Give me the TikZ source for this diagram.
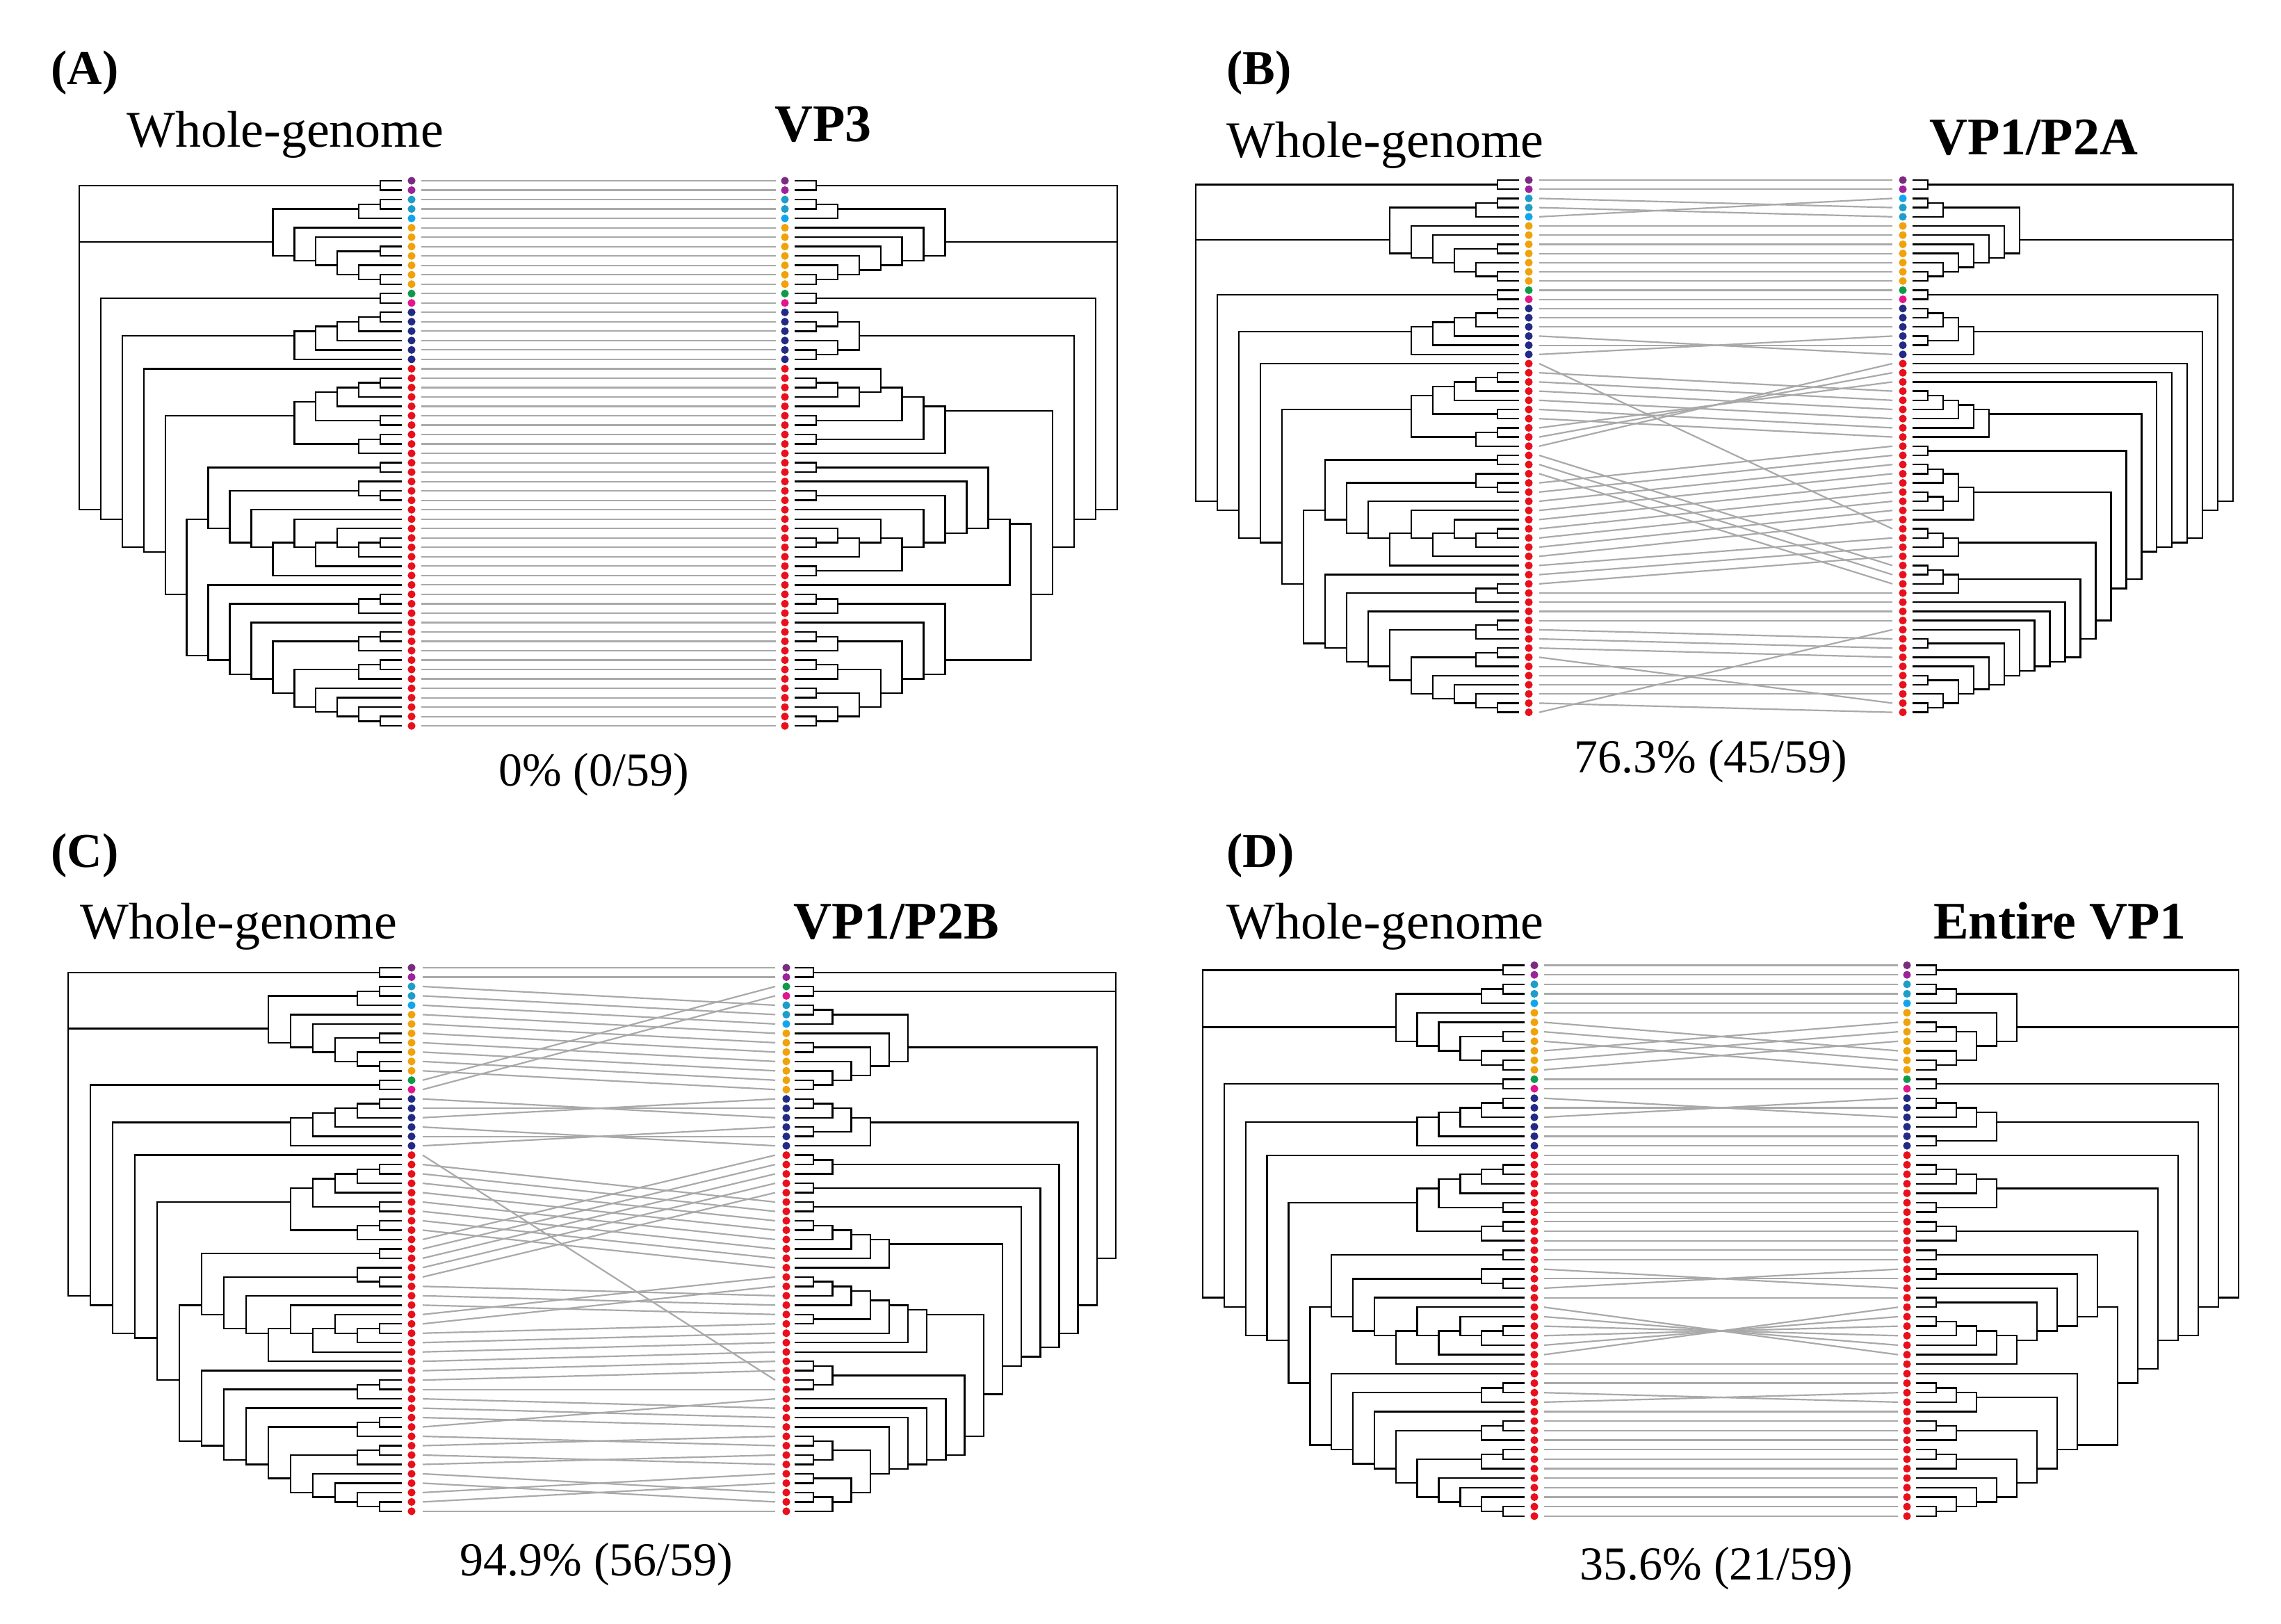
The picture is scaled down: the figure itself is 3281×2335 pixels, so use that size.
\documentclass[tikz,border=0pt]{standalone}
\usepackage{fontspec}
\setmainfont{Liberation Serif}
\definecolor{cpa}{HTML}{7B2B7F}
\definecolor{cpb}{HTML}{9C2399}
\definecolor{ccy}{HTML}{1E9DC9}
\definecolor{csk}{HTML}{10A5EE}
\definecolor{cor}{HTML}{F0A20C}
\definecolor{cgr}{HTML}{109A48}
\definecolor{cpk}{HTML}{E2168A}
\definecolor{cnv}{HTML}{232A86}
\definecolor{cred}{HTML}{E8101C}
\definecolor{clink}{HTML}{A9A9A9}
\tikzset{
  treeline/.style={line width=2.4pt, black},
  linkline/.style={line width=2.2pt, clink},
  lbl/.style={inner sep=0pt, font=\bfseries\fontsize{70}{80}\selectfont},
  ttl/.style={inner sep=0pt, font=\fontsize{74}{80}\selectfont},
  seg/.style={inner sep=0pt, font=\bfseries\fontsize{76}{80}\selectfont},
  pct/.style={inner sep=0pt, font=\fontsize{68}{80}\selectfont},
}
% ---------- tree parser ----------
\newcount\tsp \newcount\tmk \newcount\ttip \newcount\tmax
\newcount\tbase \newcount\tii \newcount\tlv
\newif\iftdraw
\def\tend{@@tend@@}
\def\ttok#1{%
  \ifx#1\tend\let\tnext\relax
  \else
    \if#1(\tpushmk\fi
    \if#1)\tclose\fi
    \if#1t\tnewtip\fi
    \let\tnext\ttok
  \fi\tnext}
\def\tnewtip{%
  \global\advance\ttip1
  \global\advance\tsp1
  \expandafter\xdef\csname tL\the\tsp\endcsname{0}%
  \expandafter\xdef\csname tA\the\tsp\endcsname{\the\ttip}%
  \expandafter\xdef\csname tB\the\tsp\endcsname{\the\ttip}}
\def\tpushmk{%
  \global\advance\tmk1
  \expandafter\xdef\csname tM\the\tmk\endcsname{\the\tsp}}
\def\tmaxloop{\ifnum\tii<\tsp \advance\tii1
  \ifnum\csname tL\the\tii\endcsname>\tlv \tlv=\csname tL\the\tii\endcsname\relax\fi
  \expandafter\tmaxloop\fi}
\def\tdrawloop{\ifnum\tii<\tsp \advance\tii1
  \edef\tcl{\csname tL\the\tii\endcsname}%
  \edef\tca{\csname tA\the\tii\endcsname}%
  \edef\tcb{\csname tB\the\tii\endcsname}%
  \draw[treeline] ({\tXz+(\tdir)*\tcl*\tstep},{\tYz+((\tca+\tcb)/2-1)*\tdy}) -| ({\tXz+(\tdir)*\the\tlv*\tstep},{\tYz+((\tpa+\tpb)/2-1)*\tdy});
  \expandafter\tdrawloop\fi}
\def\tclose{%
  \tbase=\csname tM\the\tmk\endcsname\relax
  \global\advance\tmk-1
  \tlv=0 \tii=\tbase
  \tmaxloop
  \advance\tlv1
  \ifnum\tlv>\tmax\global\tmax=\tlv\fi
  \advance\tbase1
  \edef\tpa{\csname tA\the\tbase\endcsname}%
  \edef\tpb{\csname tB\the\tsp\endcsname}%
  \iftdraw \tii=\tbase \advance\tii-1 \tdrawloop \fi
  \global\tsp=\tbase
  \expandafter\xdef\csname tL\the\tsp\endcsname{\the\tlv}%
  \expandafter\xdef\csname tA\the\tsp\endcsname{\tpa}%
  \expandafter\xdef\csname tB\the\tsp\endcsname{\tpb}}
\newcommand\drawtree[6]{% tree, tip x, dir, root x, y0, dy
  \def\tXz{#2}\def\tdir{#3}\def\tYz{#5}\def\tdy{#6}%
  \global\tsp=0 \global\tmk=0 \global\ttip=0 \global\tmax=0
  \tdrawfalse
  \expandafter\ttok#1\tend
  \pgfmathsetmacro\tstep{abs(#4-#2)/\the\tmax}%
  \global\tsp=0 \global\tmk=0 \global\ttip=0
  \tdrawtrue
  \expandafter\ttok#1\tend}
\def\tipcol#1{\ifcase#1\or cpa\or cpb\or ccy\or ccy\or csk\or cor\or cor\or cor\or cor\or cor\or cor\or cor\or cgr\or cpk\or cnv\or cnv\or cnv\or cnv\or cnv\or cnv\else cred\fi}
\newcommand\drawlinks[7]{% map, left dot x, right dot x, line x1, line x2, y0, dy
  \foreach \i/\p in #1 {
    \draw[linkline] (#4,{#6+(\i-1)*#7}) -- (#5,{#6+(\p-1)*#7});
  }
  \foreach \i/\p in #1 {
    \edef\cc{\tipcol{\i}}
    \fill[\cc] (#2,{#6+(\i-1)*#7}) circle[radius=5.6pt];
    \fill[\cc] (#3,{#6+(\p-1)*#7}) circle[radius=5.6pt];
  }}
% ---------- whole-genome tree ----------
\def\WGco{(((t,t),t),(t,(t,((t,t),(t,(t,t))))))}
\def\WGnavy{(((((t,t),t),t),t),t)}
\def\WGredA{(((((t,t),t),t),(t,t)),((t,t),t))}
\def\WGa{((t,t),t)}
\def\WGb{(t,\WGa)}
\def\WGc{(\WGb,t)}
\def\WGd{(t,\WGc)}
\def\WGe{(\WGd,t)}
\def\WGf{(t,\WGe)}
\def\WGg{((t,(t,t)),\WGf)}
\def\WGnineA{((t,t),\WGg)}
\def\WGh{(t,(t,t))}
\def\WGi{(t,\WGh)}
\def\WGj{(t,\WGi)}
\def\WGk{(((t,t),t),\WGj)}
\def\WGl{(((t,t),t),\WGk)}
\def\WGm{(t,\WGl)}
\def\WGn{(((t,t),t),\WGm)}
\def\WGnineB{(t,\WGn)}
\def\WGten{(\WGnineA,\WGnineB)}
\def\WGeleven{(\WGredA,\WGten)}
\def\WGtwelve{(t,\WGeleven)}
\def\WGthirteen{(\WGnavy,\WGtwelve)}
\def\WGfourteen{((t,t),\WGthirteen)}
\edef\treeWG{((t,t),\WGco,\WGfourteen)}
% ---------- VP3 tree ----------
\def\RAco{(((t,t),t),(t,(t,(t,(t,(t,(t,t)))))))}
\def\RAnavy{((t,(t,t)),(t,(t,t)))}
\def\RAa{(t,(((t,t),t),t))}
\def\RAsevenU{(((\RAa,(t,t)),(t,t)),t)}
\def\RAb{(t,(t,t))}
\def\RAc{(\RAb,t)}
\def\RAd{(t,\RAc)}
\def\RAe{(\RAd,(t,t))}
\def\RAf{(t,\RAe)}
\def\RAg{((t,t),\RAf)}
\def\RAh{(t,\RAg)}
\def\RAi{((t,t),\RAh)}
\def\RAten{(\RAi,t)}
\def\RAj{(t,(t,t))}
\def\RAk{((t,t),\RAj)}
\def\RAl{(((t,t),t),\RAk)}
\def\RAm{(((t,t),t),\RAl)}
\def\RAn{(t,\RAm)}
\def\RAsevenL{(((t,t),t),\RAn)}
\def\RAeleven{(\RAten,\RAsevenL)}
\def\RAtwelve{(\RAsevenU,\RAeleven)}
\def\RAthirteen{(\RAnavy,\RAtwelve)}
\def\RAfourteen{((t,t),\RAthirteen)}
\edef\treeRA{((t,t),\RAco,\RAfourteen)}
% ---------- VP1/P2A tree ----------
\def\RBnavy{((((t,t),t),(t,t)),t)}
\def\RBfive{(((((t,t),t),t),t),t)}
\def\RBfour{((((t,t),t),((t,t),t)),t)}
\def\RBthreeA{(((t,t),t),t)}
\def\RBthreeB{(((t,t),t),t)}
\def\RBa{((t,t),(t,(t,t)))}
\def\RBb{(t,\RBa)}
\def\RBc{(t,\RBb)}
\def\RBd{((t,t),\RBc)}
\def\RBe{(t,\RBd)}
\def\RBf{(t,\RBe)}
\def\RBg{(t,\RBf)}
\def\RBten{(t,\RBg)}
\def\RBeleven{(\RBthreeB,\RBten)}
\def\RBtwelve{(\RBthreeA,\RBeleven)}
\def\RBthirteen{(\RBfour,\RBtwelve)}
\def\RBfourteen{((t,t),\RBthirteen)}
\def\RBfifteen{(\RBfive,\RBfourteen)}
\def\RBeighteen{(t,(t,(t,\RBfifteen)))}
\def\RBnineteen{(\RBnavy,\RBeighteen)}
\def\RBtwenty{((t,t),\RBnineteen)}
\edef\treeRB{((t,t),\RAco,\RBtwenty)}
% ---------- VP1/P2B tree ----------
\def\RCco{(((t,t),t),(t,((t,t),(t,(t,(t,t))))))}
\def\RCfive{(((((t,t),t),t),t),t)}
\def\RCseven{(((((((t,t),t),t),(t,t)),t),t),t)}
\def\RCa{(((t,t),(t,t)),((t,t),((t,t),t)))}
\def\RCb{(t,\RCa)}
\def\RCc{(t,\RCb)}
\def\RCd{(t,\RCc)}
\def\RCe{(t,\RCd)}
\def\RCnine{(((t,t),(t,t)),\RCe)}
\def\RCten{(\RCseven,\RCnine)}
\def\RCeleven{(\RCfive,\RCten)}
\def\RCtwelve{((t,t),\RCeleven)}
\def\RCthirteen{((t,t),\RCtwelve)}
\def\RCfourteen{(((t,t),t),\RCthirteen)}
\def\RCfifteen{(\RBnavy,\RCfourteen)}
\def\RCsixteen{(\RCco,\RCfifteen)}
\edef\treeRC{((t,t),(t,t),\RCsixteen)}
% ---------- Entire VP1 tree ----------
\def\RDco{(((t,t),t),(t,(((t,t),t),(t,(t,t)))))}
\def\RDnavy{((((t,t),t),t),(t,t))}
\def\RDfour{((((t,t),t),t),(t,t))}
\def\RDa{(((((t,t),t),t),t),t)}
\def\RDb{((t,t),\RDa)}
\def\RDc{(t,\RDb)}
\def\RDd{((t,t),\RDc)}
\def\RDnine{((t,t),\RDd)}
\def\RDe{(t,(t,(t,(t,t))))}
\def\RDf{(((t,t),t),\RDe)}
\def\RDg{(((t,t),t),\RDf)}
\def\RDh{((((t,t),t),t),\RDg)}
\def\RDeight{(t,\RDh)}
\def\RDten{(\RDnine,\RDeight)}
\def\RDeleven{(((t,t),t),\RDten)}
\def\RDtwelve{(\RDfour,\RDeleven)}
\def\RDthirteen{(t,\RDtwelve)}
\def\RDfourteen{(\RDnavy,\RDthirteen)}
\def\RDfifteen{((t,t),\RDfourteen)}
\edef\treeRD{((t,t),\RDco,\RDfifteen)}
% ---------- tip correspondences (left tip / right position) ----------
\def\mapA{1/1,2/2,3/3,4/4,5/5,6/6,7/7,8/8,9/9,10/10,11/11,12/12,13/13,14/14,15/15,16/16,17/17,18/18,19/19,20/20,21/21,22/22,23/23,24/24,25/25,26/26,27/27,28/28,29/29,30/30,31/31,32/32,33/33,34/34,35/35,36/36,37/37,38/38,39/39,40/40,41/41,42/42,43/43,44/44,45/45,46/46,47/47,48/48,49/49,50/50,51/51,52/52,53/53,54/54,55/55,56/56,57/57,58/58,59/59}
\def\mapB{1/1,2/2,3/4,4/5,5/3,6/6,7/7,8/8,9/9,10/10,11/11,12/12,13/13,14/14,15/15,16/16,17/17,18/20,19/19,20/18,21/39,22/24,23/25,24/26,25/27,26/28,27/29,28/23,29/22,30/21,31/43,32/44,33/45,34/30,35/31,36/32,37/33,38/34,39/35,40/36,41/37,42/38,43/40,44/41,45/42,46/46,47/47,48/48,49/49,50/51,51/52,52/53,53/58,54/54,55/55,56/56,57/57,58/59,59/50}
\def\mapC{1/1,2/2,3/5,4/6,5/7,6/8,7/9,8/10,9/11,10/12,11/13,12/14,13/3,14/4,15/17,16/16,17/15,18/20,19/19,20/18,21/45,22/26,23/27,24/28,25/29,26/30,27/31,28/32,29/33,30/21,31/22,32/23,33/24,34/25,35/36,36/37,37/38,38/34,39/35,40/39,41/40,42/41,43/42,44/43,45/44,46/46,47/48,48/49,49/50,50/47,51/52,52/51,53/54,54/53,55/57,56/58,57/55,58/56,59/59}
\def\mapD{1/1,2/2,3/3,4/4,5/5,6/6,7/10,8/11,9/12,10/7,11/8,12/9,13/13,14/14,15/17,16/16,17/15,18/18,19/19,20/20,21/21,22/22,23/23,24/24,25/25,26/26,27/27,28/28,29/29,30/30,31/31,32/32,33/35,34/34,35/33,36/36,37/42,38/41,39/40,40/39,41/38,42/37,43/43,44/44,45/45,46/47,47/46,48/48,49/49,50/50,51/51,52/52,53/53,54/54,55/55,56/56,57/57,58/58,59/59}
\begin{document}
\begin{tikzpicture}[x=1pt,y=-1pt]
\fill[white] (0,0) rectangle (3281,2335);
\useasboundingbox (0,0) rectangle (3281,2335);
% ===== Panel A =====
\drawtree{\treeWG}{578}{-1}{114}{260}{13.52}
\drawtree{\treeRA}{1143}{1}{1607}{260}{13.52}
\drawlinks{\mapA}{592}{1129}{606}{1116}{260}{13.52}
\node[lbl, anchor=base west] (labA) at (73,121) {(A)};
\node[ttl, anchor=base west] (wgA) at (182,211) {Whole-genome};
\node[seg, anchor=base] (segA) at (1184,203) {VP3};
\node[pct, anchor=base] (pctA) at (854,1130) {0\% (0/59)};
% ===== Panel B =====
\drawtree{\treeWG}{2185}{-1}{1720}{259}{13.2}
\drawtree{\treeRB}{2751}{1}{3212}{259}{13.2}
\drawlinks{\mapB}{2199}{2737}{2214}{2722}{259}{13.2}
\node[lbl, anchor=base west] (labB) at (1764,121) {(B)};
\node[ttl, anchor=base west] (wgB) at (1764,226) {Whole-genome};
\node[seg, anchor=base] (segB) at (2925,222) {VP1/P2A};
\node[pct, anchor=base] (pctB) at (2461,1111) {76.3\% (45/59)};
% ===== Panel C =====
\drawtree{\treeWG}{578}{-1}{98}{1392}{13.48}
\drawtree{\treeRC}{1143}{1}{1605}{1392}{13.48}
\drawlinks{\mapC}{592}{1131}{608}{1115}{1392}{13.48}
\node[lbl, anchor=base west] (labC) at (73,1247) {(C)};
\node[ttl, anchor=base west] (wgC) at (115,1350) {Whole-genome};
\node[seg, anchor=base] (segC) at (1289,1350) {VP1/P2B};
\node[pct, anchor=base] (pctC) at (858,2266) {94.9\% (56/59)};
% ===== Panel D =====
\drawtree{\treeWG}{2193}{-1}{1730}{1388.5}{13.66}
\drawtree{\treeRD}{2756}{1}{3220}{1388.5}{13.66}
\drawlinks{\mapD}{2207}{2743}{2221}{2730}{1388.5}{13.66}
\node[lbl, anchor=base west] (labD) at (1764,1247) {(D)};
\node[ttl, anchor=base west] (wgD) at (1764,1350) {Whole-genome};
\node[seg, anchor=base] (segD) at (2963,1350) {Entire VP1};
\node[pct, anchor=base] (pctD) at (2469,2272) {35.6\% (21/59)};
\end{tikzpicture}
\end{document}
